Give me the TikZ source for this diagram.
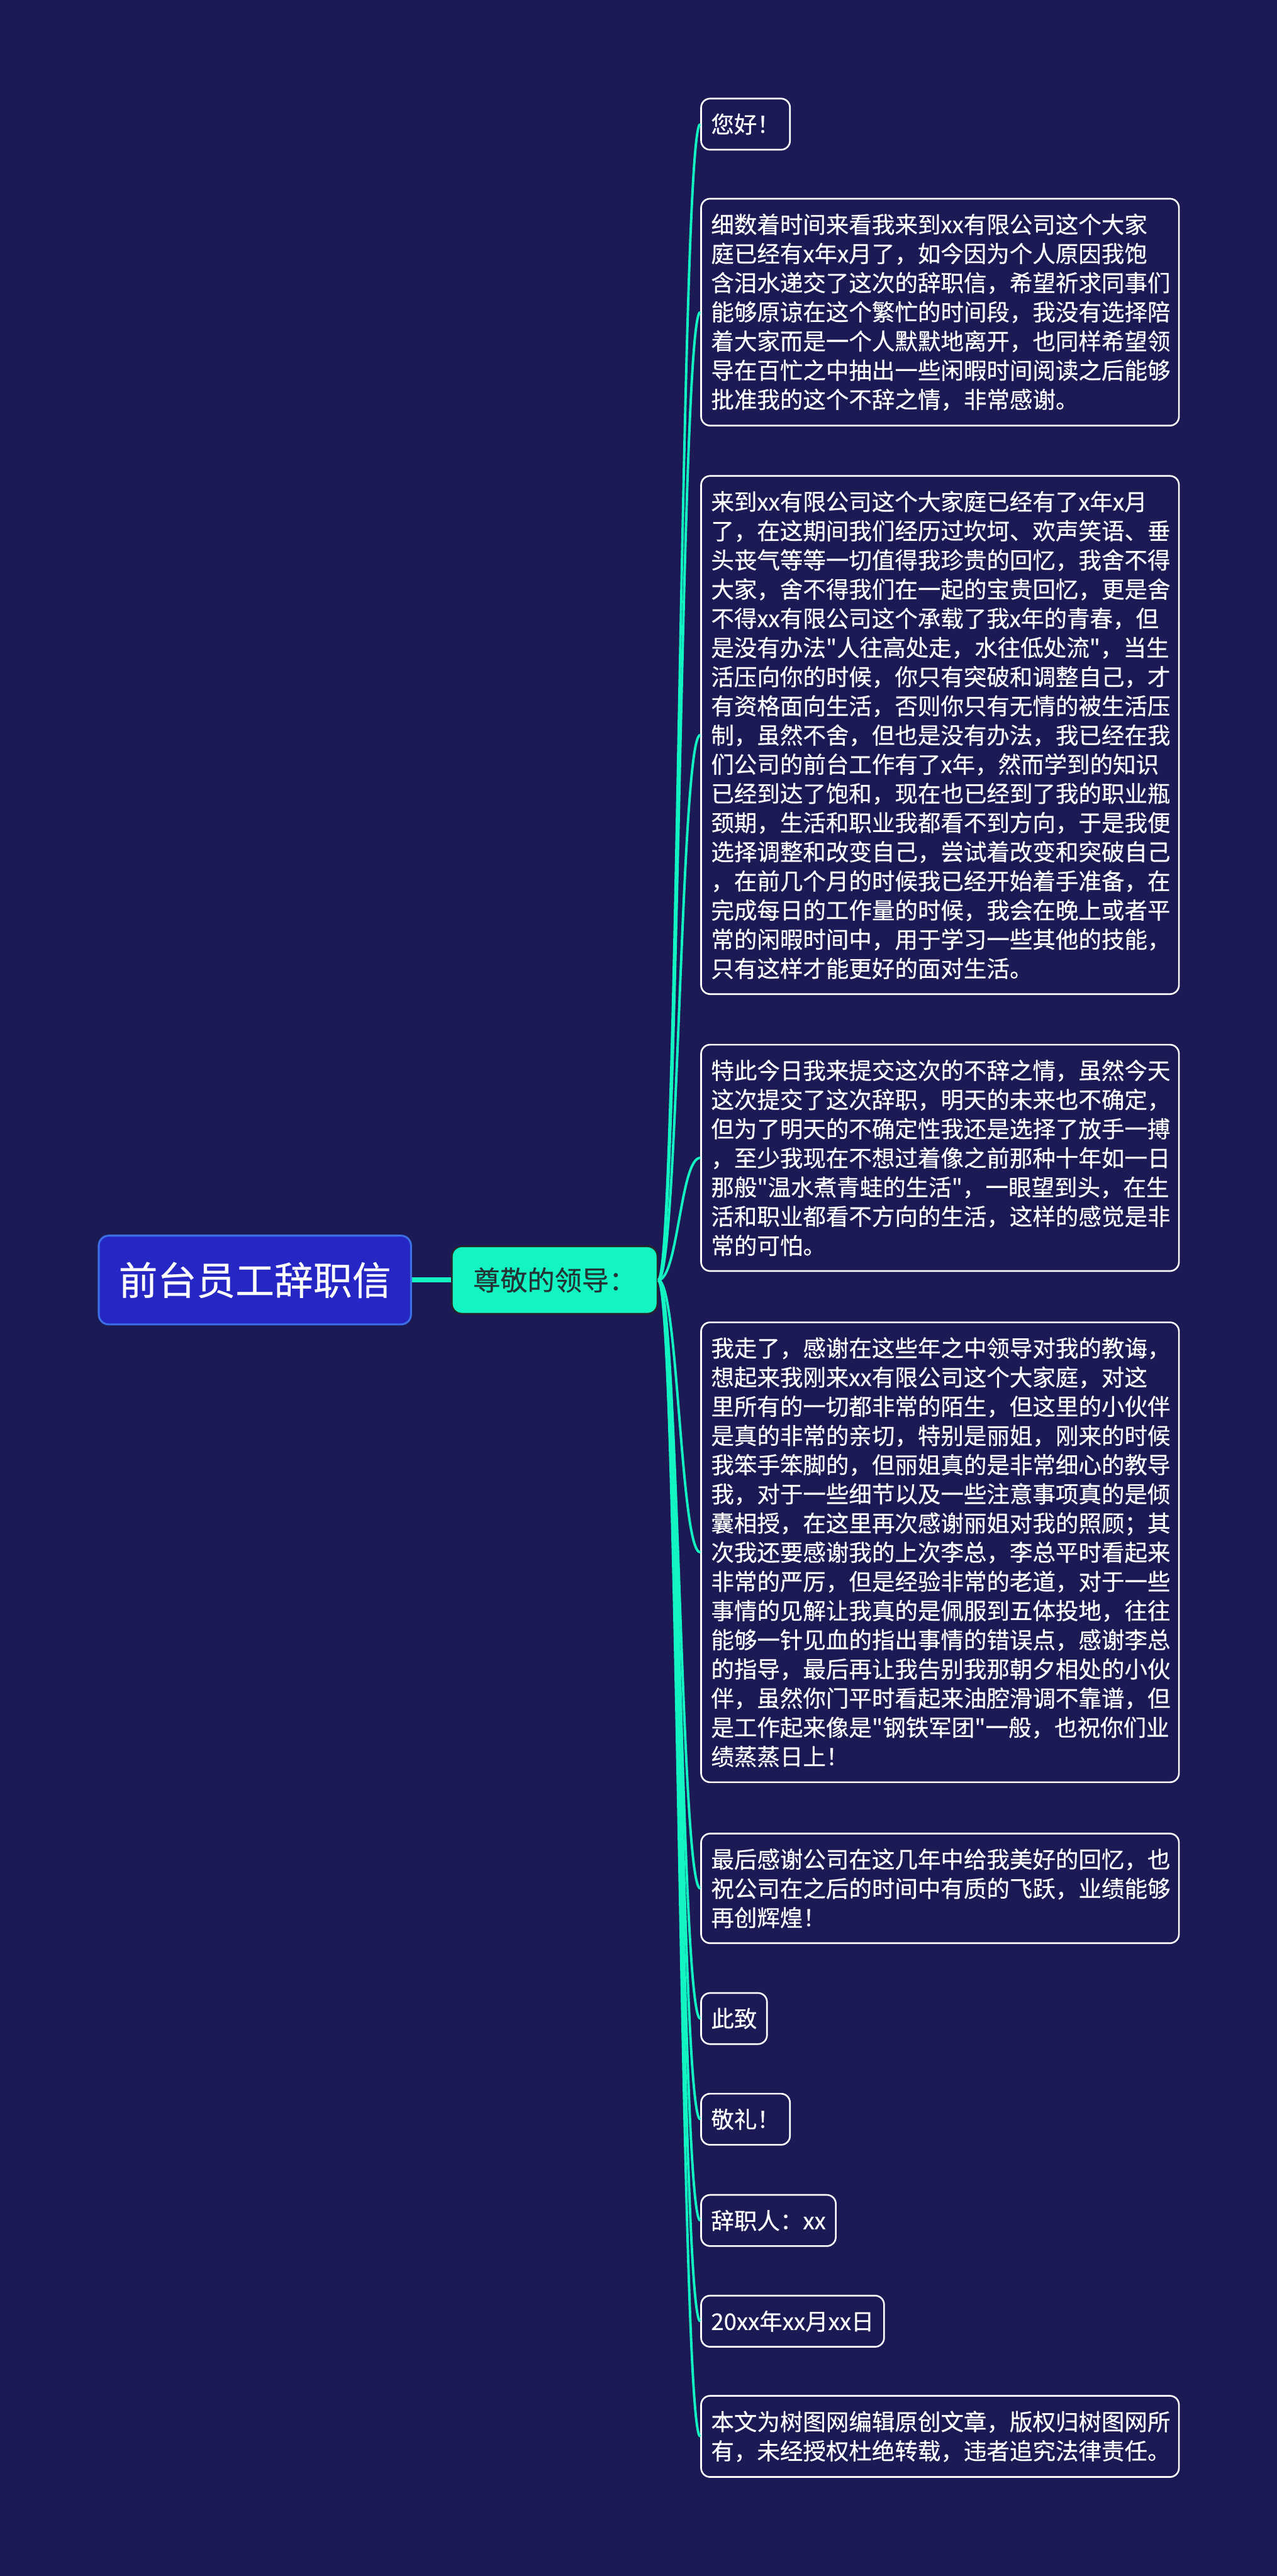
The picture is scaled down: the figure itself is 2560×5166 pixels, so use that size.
\documentclass[tikz,border=0pt]{standalone}
\usepackage{fontspec}
\setmainfont{Noto Sans CJK SC}[Ligatures=TeXOff, FakeBold=0.4]
\definecolor{bgnavy}{RGB}{27,26,84}
\definecolor{rootblue}{RGB}{38,38,196}
\definecolor{rootedge}{RGB}{60,110,230}
\definecolor{mint}{RGB}{18,245,195}
\definecolor{minttext}{RGB}{34,52,52}
\newcommand{\leaffont}{\fontsize{13.1pt}{16.65pt}\selectfont}

\begin{document}
\begin{tikzpicture}[x=0.1mm, y=-0.1mm,
  root/.style={fill=rootblue, draw=rootedge, line width=1.1pt, rounded corners=2mm, text=white,
    font=\fontsize{22.2pt}{26pt}\selectfont, minimum width=62.6mm, minimum height=17.8mm},
  lead/.style={fill=mint, draw=black!85, line width=0.9pt, rounded corners=2mm, text=minttext,
    font=\fontsize{15.5pt}{18pt}\selectfont, minimum width=41.2mm, minimum height=13.5mm},
  leaf/.style={draw=white, line width=0.95pt, rounded corners=1.8mm, text=white, font=\leaffont,
    align=left, anchor=west, inner xsep=2mm, inner ysep=3mm},
  wide/.style={leaf, text width=91.8mm},
  link/.style={mint, line width=1.4pt}]
\fill[bgnavy] (0,0) rectangle (2560,5166);
\useasboundingbox (0,0) rectangle (2560,5166);

\node[root] (root) at (511,2567) {前台员工辞职信};
\node[lead] (lead) at (1112,2567) {尊敬的领导：};

\node[leaf] (l1) at (1404,249) {您好！};
\node[wide] (l2) at (1404,626) {细数着时间来看我来到xx有限公司这个大家\\庭已经有x年x月了，如今因为个人原因我饱\\含泪水递交了这次的辞职信，希望祈求同事们\\能够原谅在这个繁忙的时间段，我没有选择陪\\着大家而是一个人默默地离开，也同样希望领\\导在百忙之中抽出一些闲暇时间阅读之后能够\\批准我的这个不辞之情，非常感谢。};
\node[wide] (l3) at (1404,1474) {来到xx有限公司这个大家庭已经有了x年x月\\了，在这期间我们经历过坎坷、欢声笑语、垂\\头丧气等等一切值得我珍贵的回忆，我舍不得\\大家，舍不得我们在一起的宝贵回忆，更是舍\\不得xx有限公司这个承载了我x年的青春，但\\是没有办法"人往高处走，水往低处流"，当生\\活压向你的时候，你只有突破和调整自己，才\\有资格面向生活，否则你只有无情的被生活压\\制，虽然不舍，但也是没有办法，我已经在我\\们公司的前台工作有了x年，然而学到的知识\\已经到达了饱和，现在也已经到了我的职业瓶\\颈期，生活和职业我都看不到方向，于是我便\\选择调整和改变自己，尝试着改变和突破自己\\，在前几个月的时候我已经开始着手准备，在\\完成每日的工作量的时候，我会在晚上或者平\\常的闲暇时间中，用于学习一些其他的技能，\\只有这样才能更好的面对生活。};
\node[wide] (l4) at (1404,2322) {特此今日我来提交这次的不辞之情，虽然今天\\这次提交了这次辞职，明天的未来也不确定，\\但为了明天的不确定性我还是选择了放手一搏\\，至少我现在不想过着像之前那种十年如一日\\那般"温水煮青蛙的生活"，一眼望到头，在生\\活和职业都看不方向的生活，这样的感觉是非\\常的可怕。};
\node[wide] (l5) at (1404,3113) {我走了，感谢在这些年之中领导对我的教诲，\\想起来我刚来xx有限公司这个大家庭，对这\\里所有的一切都非常的陌生，但这里的小伙伴\\是真的非常的亲切，特别是丽姐，刚来的时候\\我笨手笨脚的，但丽姐真的是非常细心的教导\\我，对于一些细节以及一些注意事项真的是倾\\囊相授，在这里再次感谢丽姐对我的照顾；其\\次我还要感谢我的上次李总，李总平时看起来\\非常的严厉，但是经验非常的老道，对于一些\\事情的见解让我真的是佩服到五体投地，往往\\能够一针见血的指出事情的错误点，感谢李总\\的指导，最后再让我告别我那朝夕相处的小伙\\伴，虽然你门平时看起来油腔滑调不靠谱，但\\是工作起来像是"钢铁军团"一般，也祝你们业\\绩蒸蒸日上！};
\node[wide] (l6) at (1404,3787) {最后感谢公司在这几年中给我美好的回忆，也\\祝公司在之后的时间中有质的飞跃，业绩能够\\再创辉煌！};
\node[leaf] (l7) at (1404,4048) {此致};
\node[leaf] (l8) at (1404,4250) {敬礼！};
\node[leaf] (l9) at (1404,4453) {辞职人：xx};
\node[leaf] (l10) at (1404,4655) {20xx年xx月xx日};
\node[wide] (l11) at (1404,4886) {本文为树图网编辑原创文章，版权归树图网所\\有，未经授权杜绝转载，违者追究法律责任。};

\draw[mint, line width=1mm] (root.east) -- (lead.west);
\foreach \i in {1,...,11}
  \draw[link] (lead.east) .. controls +(40,0) and +(-40,0) .. (l\i.west);
\end{tikzpicture}
\end{document}
